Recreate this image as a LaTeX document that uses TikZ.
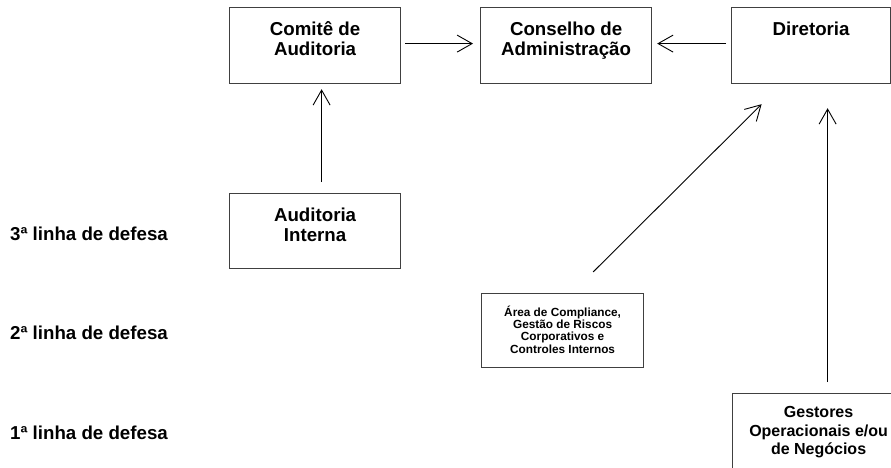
\documentclass[tikz,border=0pt]{standalone}
\usepackage{fontspec}
\setmainfont{Liberation Sans}
\usetikzlibrary{arrows.meta,calc}
\newcommand{\boxtext}[4]{\parbox[c][#2][t]{#1}{\centering\rule{0pt}{#3}#4}}
\begin{document}
\begin{tikzpicture}[x=1pt,y=-1pt,
  box/.style={draw=black!75, line width=1.2pt, inner sep=0pt, anchor=north west},
  big/.style={font=\fontsize{18.7}{20}\selectfont\bfseries},
  mid/.style={font=\fontsize{16}{18.5}\selectfont\bfseries},
  small/.style={font=\fontsize{11.8}{12.3}\selectfont\bfseries},
  arr/.style={draw=black, line width=0.9pt, -{Straight Barb[length=15pt,width=17pt,line width=0.9pt]}},
  lbl/.style={big, anchor=base west, inner sep=0pt}]
\useasboundingbox (0,0) rectangle (891,468);
\clip (0,0) rectangle (891,468);
\node[box, big] (comite) at (229,7) {\boxtext{171pt}{76pt}{28pt}{Comitê de\\Auditoria}};
\node[box, big] (conselho) at (480,7) {\boxtext{171pt}{76pt}{28pt}{Conselho de\\Administração}};
\node[box, big] (diretoria) at (731,7) {\boxtext{159pt}{76pt}{28pt}{Diretoria}};
\node[box, big] (auditoria) at (229,193) {\boxtext{171pt}{75pt}{28pt}{Auditoria\\Interna}};
\node[box, small] (compliance) at (481,293) {\boxtext{162pt}{74pt}{22.5pt}{Área de Compliance,\\Gestão de Riscos\\Corporativos e\\Controles Internos}};
\node[box, mid] (gestores) at (732,393) {\boxtext{172pt}{95pt}{24pt}{Gestores\\Operacionais e/ou\\de Negócios}};
\node[lbl] (l3) at (10,240) {3ª linha de defesa};
\node[lbl] (l2) at (10,339) {2ª linha de defesa};
\node[lbl] (l1) at (10,439) {1ª linha de defesa};
\draw[arr, shorten <=4pt, shorten >=7pt] ([yshift=2pt]comite.east) -- ([yshift=2pt]conselho.west);
\draw[arr, shorten <=5pt, shorten >=5pt] ([yshift=2pt]diretoria.west) -- ([yshift=2pt]conselho.east);
\draw[arr, shorten <=11pt, shorten >=5pt] ([xshift=6.5pt]auditoria.north) -- ([xshift=6.5pt]comite.south);
\coordinate (c1) at ($(compliance.north)+(30.5,-21)$);
\coordinate (c2) at ($(diretoria.south)+(-49.5,20)$);
\draw[arr] (c1) -- (c2);
\coordinate (g1) at ($(gestores.north)+(9,-11)$);
\coordinate (g2) at ($(diretoria.south)+(16.5,24)$);
\draw[arr] (g1) -- (g2);
\end{tikzpicture}
\end{document}
